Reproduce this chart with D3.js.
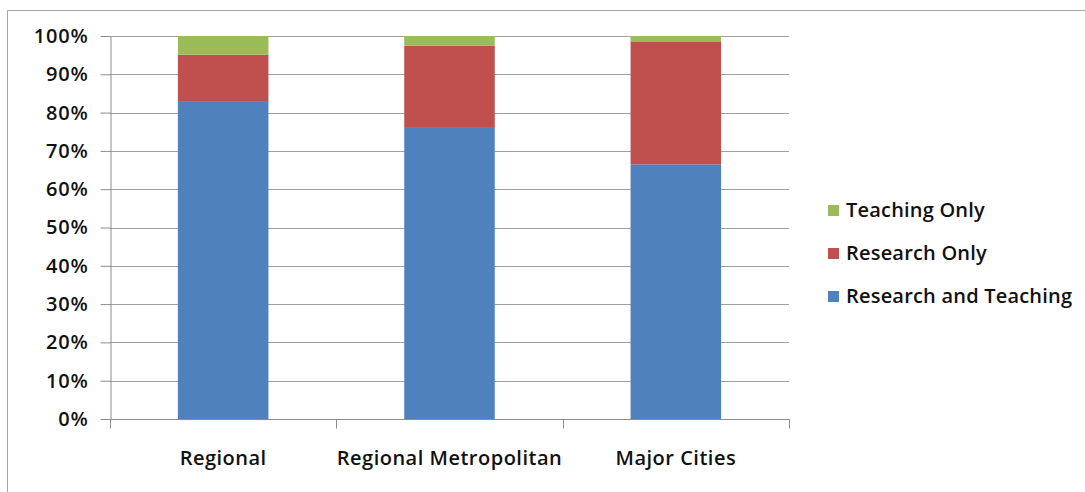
<!DOCTYPE html>
<html>
<head>
<meta charset="utf-8">
<script src="https://cdn.jsdelivr.net/npm/d3@7"></script>
<style>
  html, body { margin: 0; padding: 0; background: #fff; }
  svg { display: block; }
  text { font-family: "Open Sans", sans-serif; font-weight: 600; fill: #111; }
</style>
</head>
<body>
<svg id="chart" width="1085" height="492"></svg>
<script>
// Share of staff by role, per location type (percent of total)
const categories = ["Regional", "Regional Metropolitan", "Major Cities"];
const researchAndTeaching = [82.8, 76.0, 66.5];
const researchOnly = [12.3, 21.5, 32.1];
const teachingOnly = [4.9, 2.5, 1.4];
const seriesNames = ["Research and Teaching", "Research Only", "Teaching Only"];
const seriesColors = ["#4f81bd", "#c0504d", "#9bbb59"];
const yTicks = [0, 10, 20, 30, 40, 50, 60, 70, 80, 90, 100];

const rows = categories.map((c, i) => ({
  category: c,
  "Research and Teaching": researchAndTeaching[i],
  "Research Only": researchOnly[i],
  "Teaching Only": teachingOnly[i]
}));

const svg = d3.select("#chart");
const plotLeft = 110, plotRight = 789, plotTop = 36, plotBottom = 419;
const fontSize = 20;

// outer frame (top and left edges)
svg.append("path")
  .attr("d", "M7.5,492 V10.5 H1085")
  .attr("fill", "none").attr("stroke", "#a6a6a6").attr("stroke-width", 1);

const x = d3.scaleBand().domain(categories).range([plotLeft, plotRight]).paddingInner(0.6).paddingOuter(0.3);
const xOuter = d3.scaleBand().domain(categories).range([plotLeft, plotRight]);
const y = d3.scaleLinear().domain([0, 100]).range([plotBottom, plotTop]);

// gridlines
svg.append("g").selectAll("line").data(yTicks.slice(1)).join("line")
  .attr("x1", plotLeft).attr("x2", plotRight)
  .attr("y1", d => Math.round(y(d)) + 0.5).attr("y2", d => Math.round(y(d)) + 0.5)
  .attr("stroke", "#a0a0a0").attr("stroke-width", 1.2);

// stacked bars
const stack = d3.stack().keys(seriesNames)(rows);
svg.append("g").selectAll("g").data(stack).join("g")
  .attr("fill", (d, i) => seriesColors[i])
  .selectAll("rect").data(d => d).join("rect")
  .attr("x", d => x(d.data.category))
  .attr("width", x.bandwidth())
  .attr("y", d => y(d[1]))
  .attr("height", d => y(d[0]) - y(d[1]));

// y axis
const yAxis = svg.append("g")
  .attr("transform", `translate(${plotLeft + 0.5},0)`)
  .call(d3.axisLeft(y).tickValues(yTicks).tickFormat(d => d + "%").tickSize(10).tickSizeOuter(0).tickPadding(12));
yAxis.select(".domain").attr("stroke", "#8c8c8c");
yAxis.selectAll(".tick line").attr("stroke", "#8c8c8c");
yAxis.selectAll("text").attr("font-size", 20).attr("letter-spacing", 0.8)
  .attr("font-family", null).attr("fill", "#111");

// x axis: line with ticks at category boundaries
const xa = svg.append("g").attr("transform", `translate(0,${plotBottom + 0.5})`);
xa.append("line").attr("x1", plotLeft).attr("x2", plotRight + 0.5).attr("stroke", "#8c8c8c");
const bounds = categories.map(c => xOuter(c)).concat([plotRight]);
xa.selectAll(".bt").data(bounds).join("line").attr("class", "bt")
  .attr("x1", d => Math.round(d) + 0.5).attr("x2", d => Math.round(d) + 0.5)
  .attr("y1", 0).attr("y2", 9).attr("stroke", "#8c8c8c");
xa.selectAll("text").data(categories).join("text")
  .attr("x", d => x(d) + x.bandwidth() / 2)
  .attr("y", 45)
  .attr("text-anchor", "middle")
  .attr("font-size", fontSize)
  .attr("letter-spacing", 0.5)
  .text(d => d);

// legend (top-down: Teaching Only, Research Only, Research and Teaching)
const legendItems = seriesNames.map((n, i) => ({ name: n, color: seriesColors[i] })).reverse();
const lg = svg.append("g").selectAll("g").data(legendItems).join("g")
  .attr("transform", (d, i) => `translate(828,${210 + i * 43})`);
lg.append("rect").attr("x", 0).attr("y", -5).attr("width", 11).attr("height", 11).attr("fill", d => d.color);
lg.append("text").attr("x", 18).attr("y", 7).attr("font-size", fontSize).attr("letter-spacing", 0.2).text(d => d.name);
</script>
</body>
</html>
